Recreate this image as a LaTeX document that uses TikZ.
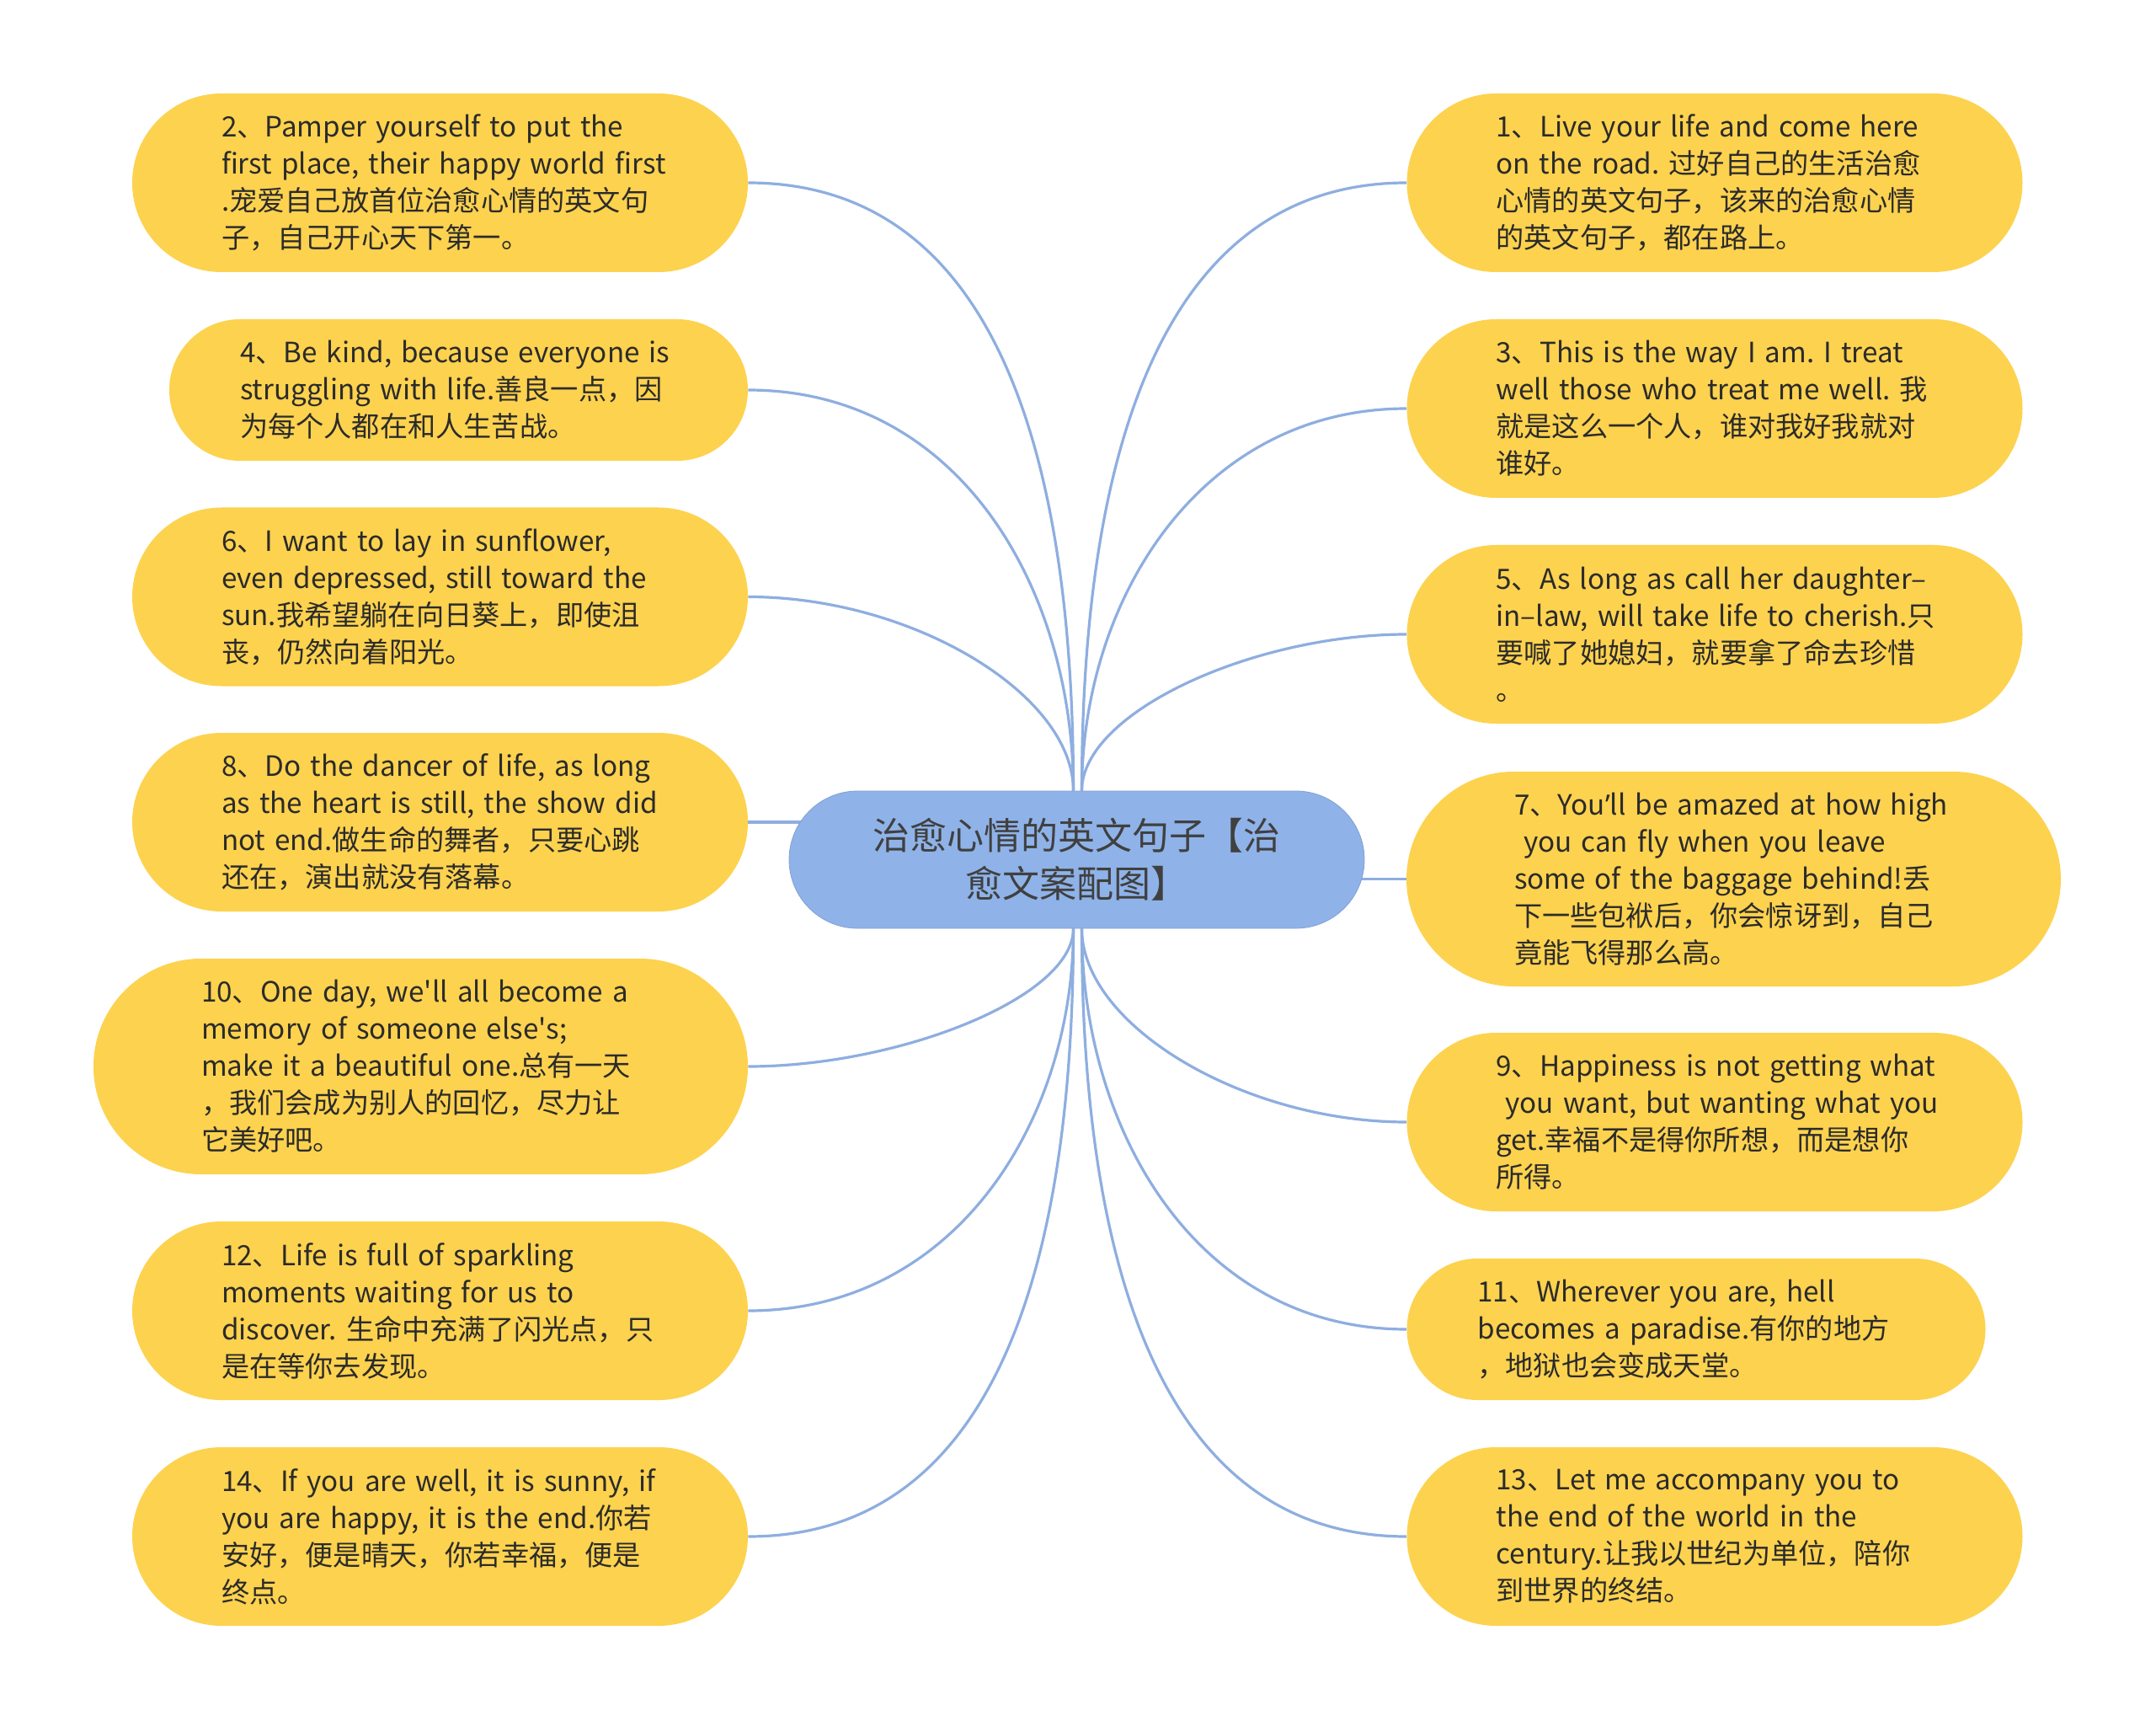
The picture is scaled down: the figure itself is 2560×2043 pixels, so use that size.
\documentclass[tikz,border=0pt]{standalone}
\usepackage{fontspec}
\setmainfont{Noto Sans CJK SC}
\newfontfamily\latinfont{Noto Sans}
\usetikzlibrary{backgrounds,calc}
\definecolor{ylw}{HTML}{FDD24E}
\definecolor{ctr}{HTML}{8FB3E8}
\definecolor{lnk}{HTML}{8EAEE0}
\definecolor{txt}{HTML}{2B2B2B}
\newcommand\Lq[1]{\mbox{#1}}
\newcommand\rsq{{\latinfont ’}}
\begin{document}
\frenchspacing
\begin{tikzpicture}[x=0.5pt,y=-0.5pt,
  leaf/.style={rectangle, fill=ylw, inner xsep=0pt, inner ysep=0pt, align=left,
    text=txt, font=\fontsize{16.6}{22}\selectfont},
  leafA/.style={leaf, minimum width=365.5pt, minimum height=106pt, rounded corners=53pt, text width=259.5pt},
  leafS/.style={leaf, minimum width=343.5pt, minimum height=84pt, rounded corners=42pt, text width=259.5pt},
  leafL/.style={leaf, minimum width=388.5pt, minimum height=128pt, rounded corners=64pt, text width=260.5pt},
  hub/.style={rectangle, fill=ctr, draw=ctr!90!black, line width=0.4pt, minimum width=341.5pt, minimum height=81.5pt,
    rounded corners=40.75pt, align=center, text=txt!90!white, font=\fontsize{22}{28.5}\selectfont},
  link/.style={draw=lnk, line width=1.6pt}]
\useasboundingbox (0,0) rectangle (2560,2043);

% center
\node[hub] (c) at (1278.5,1020.5) {治愈心情的英文句子【治\\愈文案配图】};

% left
\node[leafA] (n2) at (522.5,217) {\Lq{2、Pamper yourself to put the}\\\Lq{first place, their happy world first}\\\Lq{.宠爱自己放首位治愈心情的英文句}\\\Lq{子，自己开心天下第一。}};
\node[leafS] (n4) at (544.5,463) {\Lq{4、Be kind, because everyone is}\\\Lq{struggling with life.善良一点，因}\\\Lq{为每个人都在和人生苦战。}};
\node[leafA] (n6) at (522.5,708.5) {\Lq{6、I want to lay in sunflower,}\\\Lq{even depressed, still toward the}\\\Lq{sun.我希望躺在向日葵上，即使沮}\\\Lq{丧，仍然向着阳光。}};
\node[leafA] (n8) at (522.5,976) {\Lq{8、Do the dancer of life, as long}\\\Lq{as the heart is still, the show did}\\\Lq{not end.做生命的舞者，只要心跳}\\\Lq{还在，演出就没有落幕。}};
\node[leafL] (n10) at (499.5,1266) {\Lq{10、One day, we\textquotesingle ll all become a}\\\Lq{memory of someone else\textquotesingle s;}\\\Lq{make it a beautiful one.总有一天}\\\Lq{，我们会成为别人的回忆，尽力让}\\\Lq{它美好吧。}};
\node[leafA] (n12) at (522.5,1556) {\Lq{12、Life is full of sparkling}\\\Lq{moments waiting for us to}\\\Lq{discover. 生命中充满了闪光点，只}\\\Lq{是在等你去发现。}};
\node[leafA] (n14) at (522.5,1824) {\Lq{14、If you are well, it is sunny, if}\\\Lq{you are happy, it is the end.你若}\\\Lq{安好，便是晴天，你若幸福，便是}\\\Lq{终点。}};

% right
\node[leafA] (n1) at (2036,217) {\Lq{1、Live your life and come here}\\\Lq{on the road. 过好自己的生活治愈}\\\Lq{心情的英文句子，该来的治愈心情}\\\Lq{的英文句子，都在路上。}};
\node[leafA] (n3) at (2036,485) {\Lq{3、This is the way I am. I treat}\\\Lq{well those who treat me well. 我}\\\Lq{就是这么一个人，谁对我好我就对}\\\Lq{谁好。}};
\node[leafA] (n5) at (2036,753) {\Lq{5、As long as call her daughter–}\\\Lq{in–law, will take life to cherish.只}\\\Lq{要喊了她媳妇，就要拿了命去珍惜}\\\Lq{。}};
\node[leafL, minimum height=127.5pt] (n7) at (2058.5,1043.5) {\Lq{7、You\rsq ll be amazed at how high}\\\Lq{\ you can fly when you leave}\\\Lq{some of the baggage behind!丢}\\\Lq{下一些包袱后，你会惊讶到，自己}\\\Lq{竟能飞得那么高。}};
\node[leafA] (n9) at (2036,1332) {\Lq{9、Happiness is not getting what}\\\Lq{\ you want, but wanting what you}\\\Lq{get.幸福不是得你所想，而是想你}\\\Lq{所得。}};
\node[leafS] (n11) at (2014,1578) {\Lq{11、Wherever you are, hell}\\\Lq{becomes a paradise.有你的地方}\\\Lq{，地狱也会变成天堂。}};
\node[leafA] (n13) at (2036,1824) {\Lq{13、Let me accompany you to}\\\Lq{the end of the world in the}\\\Lq{century.让我以世纪为单位，陪你}\\\Lq{到世界的终结。}};

\begin{pgfonlayer}{background}
\fill[white] (0,0) rectangle (2560,2043);
% left, upper
\draw[link] ([xshift=-2pt]c.north) .. controls +(0,-361) and +(310,0) .. (n2.east);
\draw[link] ([xshift=-2pt]c.north) .. controls +(0,-238) and +(252,0) .. (n4.east);
\draw[link] ([xshift=-2pt]c.north) .. controls +(0,-115) and +(194,0) .. (n6.east);
\draw[link] (n8.east) -- (n8.east -| c.center);
% left, lower
\draw[link] ([xshift=-2pt]c.south) .. controls +(0,82) and +(178,0) .. (n10.east);
\draw[link] ([xshift=-2pt]c.south) .. controls +(0,227) and +(247,0) .. (n12.east);
\draw[link] ([xshift=-2pt]c.south) .. controls +(0,361) and +(310,0) .. (n14.east);
% right, upper
\draw[link] ([xshift=3pt]c.north) .. controls +(0,-361) and +(-308,0) .. (n1.west);
\draw[link] ([xshift=3pt]c.north) .. controls +(0,-227) and +(-245,0) .. (n3.west);
\draw[link] ([xshift=3pt]c.north) .. controls +(0,-93) and +(-182,0) .. (n5.west);
\draw[link] (c.center |- n7.west) -- (n7.west);
% right, lower
\draw[link] ([xshift=3pt]c.south) .. controls +(0,115) and +(-193,0) .. (n9.west);
\draw[link] ([xshift=3pt]c.south) .. controls +(0,238) and +(-250,0) .. (n11.west);
\draw[link] ([xshift=3pt]c.south) .. controls +(0,361) and +(-308,0) .. (n13.west);
\end{pgfonlayer}
\end{tikzpicture}
\end{document}
